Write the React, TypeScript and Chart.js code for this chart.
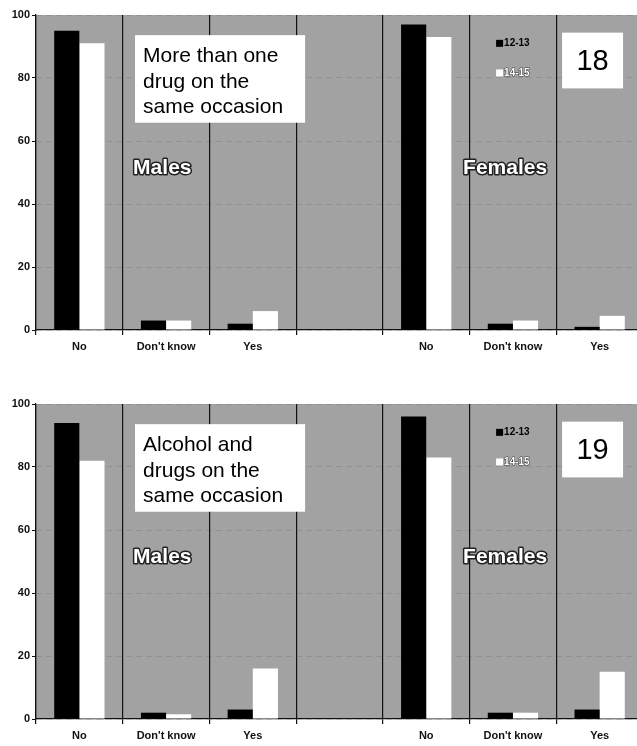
import { useEffect, useRef } from "react";
import { Chart, registerables } from "chart.js";

Chart.register(...registerables);

// ---- data ----
const categories = ["No", "Don't know", "Yes", "", "No", "Don't know", "Yes"];
const seriesLabels = ["12-13", "14-15"];
const yTicks = [0, 20, 40, 60, 80, 100];
const drugs1213 = [95, 3, 2, null, 97, 2, 1];
const drugs1415 = [91, 3, 6, null, 93, 3, 4.5];
const alcohol1213 = [94, 2, 3, null, 96, 2, 3];
const alcohol1415 = [82, 1.5, 16, null, 83, 2, 15];
const panelTitles = [
  ["More than one", "drug on the", "same occasion"],
  ["Alcohol and", "drugs on the", "same occasion"],
];
const panelNumbers = ["18", "19"];
const groupLabels = ["Males", "Females"];

const FONT = '"Liberation Sans", Arial, sans-serif';
const BG = "#a2a2a2";

const decorPlugin = {
  id: "decor",
  beforeDraw(chart: any) {
    const { ctx, chartArea: a } = chart;
    ctx.save();
    ctx.fillStyle = BG;
    ctx.fillRect(a.left, a.top, a.right - a.left, a.bottom - a.top);
    ctx.restore();
  },
  afterDatasetsDraw(chart: any, _args: any, opts: any) {
    const { ctx, chartArea: a, scales } = chart;
    const y = scales.y;
    const cw = (a.right - a.left) / categories.length;
    const X = (f: number) => a.left + cw * f;
    ctx.save();

    // group labels
    ctx.font = `bold 21px ${FONT}`;
    ctx.textAlign = "left";
    ctx.textBaseline = "alphabetic";
    ctx.lineJoin = "round";
    ctx.lineWidth = 3;
    ctx.strokeStyle = "#222";
    ctx.fillStyle = "#fff";
    const gy = y.getPixelForValue(49.5);
    [1.12, 4.925].forEach((f, i) => {
      ctx.strokeText(groupLabels[i], X(f), gy);
      ctx.fillText(groupLabels[i], X(f), gy);
    });

    // title box
    const bx1 = X(1.142), bx2 = X(3.103);
    const by1 = y.getPixelForValue(93.6), by2 = y.getPixelForValue(65.8);
    ctx.fillStyle = "#fff";
    ctx.fillRect(bx1, by1, bx2 - bx1, by2 - by1);
    ctx.fillStyle = "#000";
    ctx.font = `21px ${FONT}`;
    (opts.title as string[]).forEach((line, i) => {
      ctx.fillText(line, bx1 + 8, by1 + 27 + i * 25.5);
    });

    // number box
    const nx1 = X(6.067), nx2 = X(6.77);
    const ny1 = y.getPixelForValue(94.4), ny2 = y.getPixelForValue(76.7);
    ctx.fillStyle = "#fff";
    ctx.fillRect(nx1, ny1, nx2 - nx1, ny2 - ny1);
    ctx.fillStyle = "#000";
    ctx.font = `29px ${FONT}`;
    ctx.textAlign = "center";
    ctx.textBaseline = "middle";
    ctx.fillText(opts.num, (nx1 + nx2) / 2, (ny1 + ny2) / 2 + 1);

    // legend
    const lx = X(5.306);
    const ds = chart.data.datasets;
    [91, 81.6].forEach((v, i) => {
      const cy = y.getPixelForValue(v);
      ctx.fillStyle = ds[i].backgroundColor;
      ctx.fillRect(lx, cy - 3.5, 7, 7);
      ctx.font = `bold 10px ${FONT}`;
      ctx.textAlign = "left";
      ctx.textBaseline = "middle";
      if (i === 0) {
        ctx.fillStyle = "#000";
        ctx.fillText(ds[i].label, lx + 8, cy);
      } else {
        ctx.lineWidth = 1.2;
        ctx.strokeStyle = "#444";
        ctx.strokeText(ds[i].label, lx + 8, cy);
        ctx.fillStyle = "#fff";
        ctx.fillText(ds[i].label, lx + 8, cy);
      }
    });
    ctx.restore();
  },
};

type PanelProps = {
  top: number;
  height: number;
  plotTop: number;
  axisH: number;
  s1: (number | null)[];
  s2: (number | null)[];
  title: string[];
  num: string;
};

function Panel({ top, height, plotTop, axisH, s1, s2, title, num }: PanelProps) {
  const ref = useRef<HTMLCanvasElement>(null);
  useEffect(() => {
    const tickFont = { family: FONT, size: 11, weight: "bold" as const };
    const chart = new Chart(ref.current!, {
      type: "bar",
      data: {
        labels: categories,
        datasets: [
          { label: seriesLabels[0], data: s1, backgroundColor: "#000", categoryPercentage: 0.58, barPercentage: 1 },
          { label: seriesLabels[1], data: s2, backgroundColor: "#fff", categoryPercentage: 0.58, barPercentage: 1 },
        ],
      },
      options: {
        responsive: false,
        animation: false,
        devicePixelRatio: 1,
        layout: { padding: { top: plotTop, left: 0, right: 0, bottom: 0 } },
        plugins: {
          legend: { display: false },
          tooltip: { enabled: false },
          // @ts-ignore
          decor: { title, num },
        },
        scales: {
          x: {
            grid: { offset: true, color: "#111", lineWidth: 1.2, tickLength: 5, tickColor: "#111" },
            border: { color: "#111", width: 1.2 },
            ticks: { font: { family: FONT, size: 11, weight: "bold" }, color: "#111", padding: 5, autoSkip: false, maxRotation: 0 },
            afterFit: (s: any) => { s.height = axisH; },
          },
          y: {
            min: 0,
            max: 100,
            afterBuildTicks: (s: any) => { s.ticks = yTicks.map((v) => ({ value: v })); },
            ticks: { font: tickFont, color: "#111", padding: 2 },
            grid: { color: "rgba(40,40,40,0.14)", tickColor: "#111", tickLength: 4 },
            border: { color: "#111", width: 1.2, dash: [6, 4] },
            afterFit: (s: any) => { s.width = 36; },
          },
        },
      },
      plugins: [decorPlugin],
    });
    return () => chart.destroy();
  }, []);
  return (
    <canvas
      ref={ref}
      width={643}
      height={height}
      style={{ position: "absolute", left: 0, top, width: 643, height }}
    />
  );
}

export default function App() {
  useEffect(() => {
    document.body.style.margin = "0";
    document.body.style.overflow = "hidden";
  }, []);
  return (
    <div style={{ position: "relative", width: 637, height: 746, overflow: "hidden", background: "#fff" }}>
      <Panel top={0} height={360} plotTop={15} axisH={30} s1={drugs1213} s2={drugs1415} title={panelTitles[0]} num={panelNumbers[0]} />
      <Panel top={380} height={366} plotTop={24} axisH={27} s1={alcohol1213} s2={alcohol1415} title={panelTitles[1]} num={panelNumbers[1]} />
    </div>
  );
}
